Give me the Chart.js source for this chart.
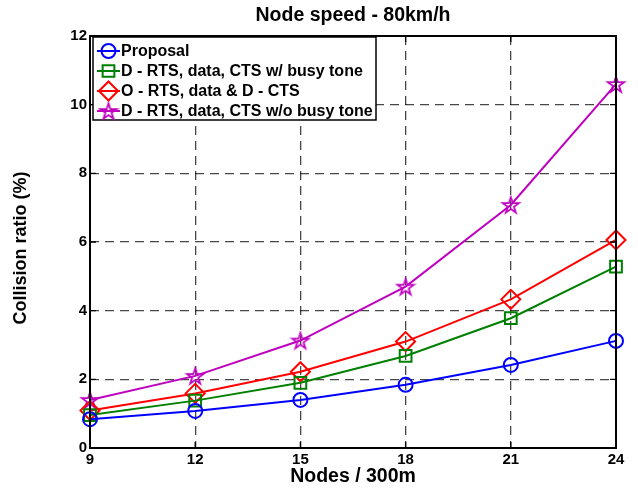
<!DOCTYPE html>
<html>
<head>
<meta charset="utf-8">
<script src="https://cdn.jsdelivr.net/npm/chart.js@4/dist/chart.umd.min.js"></script>
<style>
    html, body { margin: 0; padding: 0; background: #fff; }
    #wrap { width: 638px; height: 495px; }
</style>
</head>
<body>
<div id="wrap"><canvas id="collisionChart" width="638" height="495"></canvas></div>
<script>
// Data
const nodes = [9, 12, 15, 18, 21, 24];
const yTicks = [0, 2, 4, 6, 8, 10, 12];
const proposal = [0.84, 1.08, 1.40, 1.84, 2.42, 3.12];
const dBusyTone = [0.96, 1.38, 1.90, 2.68, 3.78, 5.28];
const oRtsDCts = [1.09, 1.59, 2.22, 3.10, 4.33, 6.06];
const dNoBusyTone = [1.40, 2.10, 3.13, 4.70, 7.08, 10.60];

const FONT = '"Liberation Sans", Arial, Helvetica, sans-serif';
const TITLE = 'Node speed - 80km/h';
const Y_TITLE = 'Collision ratio (%)';

// MATLAB style pentagram marker
function makePentagram(color) {
    const c = document.createElement('canvas');
    c.width = 22;
    c.height = 22;
    const ctx = c.getContext('2d');
    const outer = 8.5, inner = 8.5 * 0.382;
    ctx.beginPath();
    for (let i = 0; i < 10; i++) {
        const r = i % 2 === 0 ? outer : inner;
        const a = -Math.PI / 2 + i * Math.PI / 5;
        const px = 11 + r * Math.cos(a);
        const py = 11.8 + r * Math.sin(a);
        if (i === 0) ctx.moveTo(px, py); else ctx.lineTo(px, py);
    }
    ctx.closePath();
    ctx.strokeStyle = color;
    ctx.lineWidth = 1.8;
    ctx.stroke();
    return c;
}

const starImg = makePentagram('#bf00bf');

function series(label, values, color, pointStyle, radius) {
    return {
        label: label,
        data: values.map((v, i) => ({ x: nodes[i], y: v })),
        borderColor: color,
        backgroundColor: 'rgba(0,0,0,0)',
        borderWidth: 2,
        pointStyle: pointStyle,
        pointRadius: radius,
        pointBorderWidth: 2,
        pointBorderColor: color,
        pointBackgroundColor: 'rgba(0,0,0,0)',
        tension: 0,
        clip: false
    };
}

const datasets = [
    series('Proposal', proposal, '#0000ff', 'circle', 7),
    series('D - RTS, data, CTS w/ busy tone', dBusyTone, '#008000', 'rect', 8.3),
    series('O - RTS, data & D - CTS', oRtsDCts, '#ff0000', 'rectRot', 9.5),
    series('D - RTS, data, CTS w/o busy tone', dNoBusyTone, '#bf00bf', starImg, 9)
];

// Titles, axes box with inward ticks, and the legend in the upper left corner
const frameAndLegend = {
    id: 'frameAndLegend',
    afterDraw(chart) {
        const { ctx, chartArea } = chart;
        const xs = chart.scales.x, ys = chart.scales.y;
        const cx = (chartArea.left + chartArea.right) / 2;
        ctx.save();

        // titles
        ctx.fillStyle = '#000';
        ctx.textAlign = 'center';
        ctx.textBaseline = 'middle';
        ctx.font = 'bold 19.5px ' + FONT;
        ctx.fillText(TITLE, cx, 16);
        ctx.save();
        ctx.translate(21, 248);
        ctx.rotate(-Math.PI / 2);
        ctx.font = 'bold 18px ' + FONT;
        ctx.fillText(Y_TITLE, 0, 0);
        ctx.restore();

        // inward ticks
        ctx.strokeStyle = '#000';
        ctx.lineWidth = 1.3;
        ctx.beginPath();
        nodes.forEach(v => {
            const px = xs.getPixelForValue(v);
            ctx.moveTo(px, chartArea.bottom);
            ctx.lineTo(px, chartArea.bottom - 6);
            ctx.moveTo(px, chartArea.top);
            ctx.lineTo(px, chartArea.top + 6);
        });
        yTicks.forEach(v => {
            const py = ys.getPixelForValue(v);
            ctx.moveTo(chartArea.left, py);
            ctx.lineTo(chartArea.left + 6, py);
            ctx.moveTo(chartArea.right, py);
            ctx.lineTo(chartArea.right - 6, py);
        });
        ctx.stroke();

        // box
        ctx.lineWidth = 2;
        ctx.strokeRect(chartArea.left, chartArea.top, chartArea.right - chartArea.left, chartArea.bottom - chartArea.top);

        // legend
        const bx = chartArea.left + 3, by = chartArea.top + 1;
        ctx.fillStyle = '#fff';
        ctx.fillRect(bx, by, 283, 83);
        ctx.lineWidth = 1.5;
        ctx.strokeRect(bx, by, 283, 83);

        ctx.font = 'bold 16px ' + FONT;
        ctx.textBaseline = 'middle';
        ctx.textAlign = 'left';
        chart.data.datasets.forEach((ds, i) => {
            const y = by + 14 + i * 20;
            ctx.strokeStyle = ds.borderColor;
            ctx.lineWidth = 2;
            ctx.beginPath();
            ctx.moveTo(bx + 4, y);
            ctx.lineTo(bx + 27, y);
            ctx.stroke();
            ctx.fillStyle = 'rgba(0,0,0,0)';
            Chart.helpers.drawPoint(ctx, {
                pointStyle: ds.pointStyle,
                radius: ds.pointRadius,
                rotation: 0,
                borderWidth: 2
            }, bx + 15.5, y);
            ctx.fillStyle = '#000';
            ctx.fillText(ds.label, bx + 28, y + 1);
        });
        ctx.restore();
    }
};

const ctx = document.getElementById('collisionChart').getContext('2d');
const chart = new Chart(ctx, {
    type: 'line',
    data: { datasets: datasets },
    options: {
        responsive: false,
        animation: false,
        layout: { padding: { left: 0, right: 22, top: 36, bottom: 0 } },
        plugins: {
            legend: { display: false },
            tooltip: { enabled: false },
            title: { display: false }
        },
        scales: {
            x: {
                type: 'linear',
                min: nodes[0],
                max: nodes[nodes.length - 1],
                afterBuildTicks: (scale) => { scale.ticks = nodes.map(v => ({ value: v })); },
                ticks: {
                    color: '#000',
                    font: { family: FONT, size: 15, weight: 'bold' },
                    padding: 3
                },
                grid: { color: 'rgba(0,0,0,0.72)', lineWidth: 1.3, drawTicks: false },
                border: { display: false, dash: [9, 6] },
                title: {
                    display: true,
                    text: 'Nodes / 300m',
                    color: '#000',
                    font: { family: FONT, size: 19.5, weight: 'bold' },
                    padding: { top: 0, bottom: 7 }
                },
                afterFit: (scale) => { scale.height = 47; }
            },
            y: {
                min: 0,
                max: 12,
                afterBuildTicks: (scale) => { scale.ticks = yTicks.map(v => ({ value: v })); },
                ticks: {
                    color: '#000',
                    font: { family: FONT, size: 15, weight: 'bold' },
                    padding: 3
                },
                grid: { color: 'rgba(0,0,0,0.72)', lineWidth: 1.3, drawTicks: false },
                border: { display: false, dash: [9, 6] },
                afterFit: (scale) => { scale.width = 90; }
            }
        }
    },
    plugins: [frameAndLegend]
});
</script>
</body>
</html>
